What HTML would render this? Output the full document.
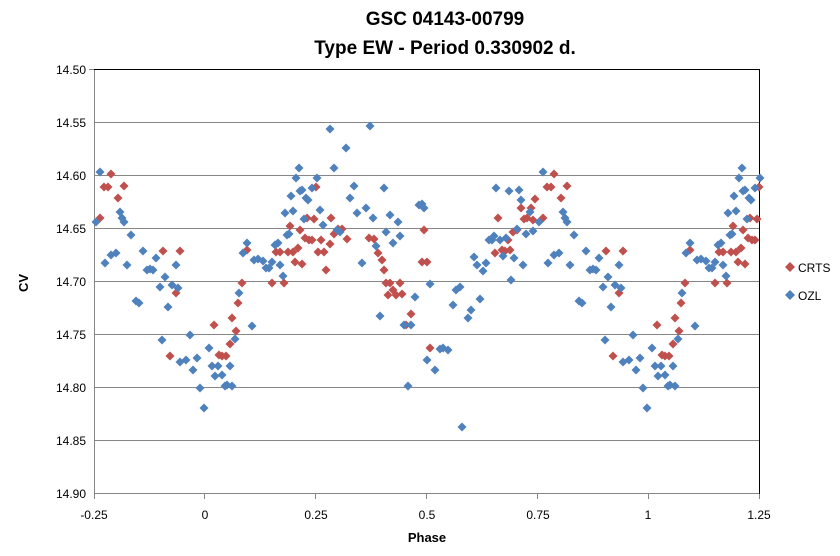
<!DOCTYPE html>
<html><head><meta charset="utf-8"><style>body{margin:0;background:#fff}svg{display:block}text{font-family:"Liberation Sans",sans-serif}</style></head>
<body>
<svg id="s" width="840" height="556" xmlns="http://www.w3.org/2000/svg">
<rect width="840" height="556" fill="#fff"/>
<text x="445" y="25" font-size="19" font-weight="bold" text-anchor="middle">GSC 04143-00799</text>
<text x="445" y="54" font-size="19" font-weight="bold" text-anchor="middle">Type EW - Period 0.330902 d.</text>
<g stroke="#868686" stroke-width="1">
<line x1="94" y1="122.5" x2="759" y2="122.5"/><line x1="94" y1="175.5" x2="759" y2="175.5"/>
<line x1="94" y1="228.5" x2="759" y2="228.5"/><line x1="94" y1="281.5" x2="759" y2="281.5"/>
<line x1="94" y1="334.5" x2="759" y2="334.5"/><line x1="94" y1="387.5" x2="759" y2="387.5"/>
<line x1="94" y1="440.5" x2="759" y2="440.5"/><line x1="94" y1="493.5" x2="759" y2="493.5"/>
<line x1="94.5" y1="69" x2="94.5" y2="494"/>
<line x1="89" y1="69.5" x2="94" y2="69.5"/>
</g>
<g stroke="#868686"><line x1="204.5" y1="494" x2="204.5" y2="499"/><line x1="315.5" y1="494" x2="315.5" y2="499"/><line x1="426.5" y1="494" x2="426.5" y2="499"/><line x1="537.5" y1="494" x2="537.5" y2="499"/><line x1="648.5" y1="494" x2="648.5" y2="499"/><line x1="759.5" y1="494" x2="759.5" y2="499"/><line x1="94.5" y1="494" x2="94.5" y2="499"/></g>
<g stroke="#000"><line x1="94" y1="69.5" x2="759" y2="69.5"/><line x1="759.5" y1="69" x2="759.5" y2="494"/></g>
<g font-size="12" text-anchor="end">
<text x="86" y="74">14.50</text><text x="86" y="127">14.55</text><text x="86" y="180">14.60</text><text x="86" y="233">14.65</text><text x="86" y="286">14.70</text><text x="86" y="339">14.75</text><text x="86" y="392">14.80</text><text x="86" y="445">14.85</text><text x="86" y="498">14.90</text>
</g>
<g font-size="12" text-anchor="middle">
<text x="94" y="519">-0.25</text><text x="205" y="519">0</text><text x="316" y="519">0.25</text><text x="427" y="519">0.5</text><text x="538" y="519">0.75</text><text x="648" y="519">1</text><text x="759" y="519">1.25</text>
</g>
<text x="427" y="542" font-size="13" font-weight="bold" text-anchor="middle">Phase</text>
<text x="0" y="0" font-size="13" font-weight="bold" text-anchor="middle" transform="translate(28,283) rotate(-90)">CV</text>
<g id="pts"></g>
<path d="M790 262l5 5-5 5-5-5z" fill="#C0504D"/><text x="798" y="272" font-size="12">CRTS</text>
<path d="M790 290l5 5-5 5-5-5z" fill="#4F81BD"/><text x="798" y="300" font-size="12">OZL</text>
</svg>
<script>
var B=[[96,222],[100,172],[105,263],[111,255],[116,253],[120,212],[122,218],[124,222],[127,265],[131,235],[136,301],[139,303],[143,251],[147,270],[150,269],[153,270],[156,258],[160,287],[162,340],[165,277],[168,307],[172,285],[176,265],[178,288],[180,362],[186,360],[190,335],[193,370],[197,358],[200,388],[204,408],[209,348],[212,366],[215,376],[218,366],[222,375],[225,386],[227,385],[230,366],[232,386],[235,339],[239,293],[243,253],[247,243],[252,326],[254,260],[258,259],[263,261],[266,268],[269,268],[272,262],[275,245],[278,243],[280,265],[283,276],[285,213],[287,235],[289,234],[291,196],[293,211],[296,178],[299,168],[300,191],[302,190],[304,219],[306,198],[308,200],[312,188],[317,178],[320,210],[323,225],[330,129],[334,168],[337,230],[340,232],[346,148],[350,198],[354,186],[357,213],[362,263],[366,208],[370,126],[373,218],[376,246],[380,316],[384,188],[386,232],[390,215],[393,243],[398,222],[400,236],[404,325],[408,386],[411,325],[415,297],[419,205],[422,204],[424,208],[427,360],[430,284],[435,370],[440,349],[443,348],[448,350],[453,305],[456,290],[460,287],[462,427],[468,318],[471,310],[474,257],[477,265],[480,299],[483,271],[486,263],[489,240],[492,240],[494,236],[496,188],[500,240],[503,256],[506,238],[509,191],[511,280],[514,258],[517,229],[519,190],[521,200],[523,265],[526,234],[530,212],[533,231]];
var R=[[100,218],[104,187],[108,187],[111,174],[118,198],[124,186],[163,251],[170,356],[176,293],[180,251],[214,325],[219,355],[222,356],[226,356],[230,344],[232,318],[236,331],[238,303],[242,283],[247,250],[272,283],[276,252],[280,252],[284,283],[288,252],[290,226],[293,252],[295,262],[298,248],[300,230],[302,264],[305,238],[307,218],[309,240],[312,240],[314,219],[316,187],[318,252],[321,240],[324,252],[326,270],[330,244],[331,218],[334,234],[338,229],[342,229],[347,239],[369,238],[374,239],[378,253],[382,260],[384,270],[386,283],[388,295],[390,283],[393,290],[396,295],[400,283],[402,294],[406,325],[411,314],[422,262],[424,230],[427,262],[430,348],[495,253],[498,218],[502,250],[505,251],[508,240],[510,250],[513,232],[517,230],[521,208],[524,219],[527,218],[531,208],[533,220],[535,199]];
function ext(a){var o=a.slice();a.forEach(function(p){if(p[0]<=317&&p[0]+443<=761)o.push([p[0]+443,p[1]]);});return o;}
var h='';
function draw(a,c){ext(a).forEach(function(p){h+='<path d="M'+p[0]+' '+(p[1]-4.5)+'l4.5 4.5-4.5 4.5-4.5-4.5z" fill="'+c+'"/>';});}
draw(R,'#C0504D');draw(B,'#4F81BD');
document.getElementById('pts').innerHTML=h;
</script>
</body></html>
